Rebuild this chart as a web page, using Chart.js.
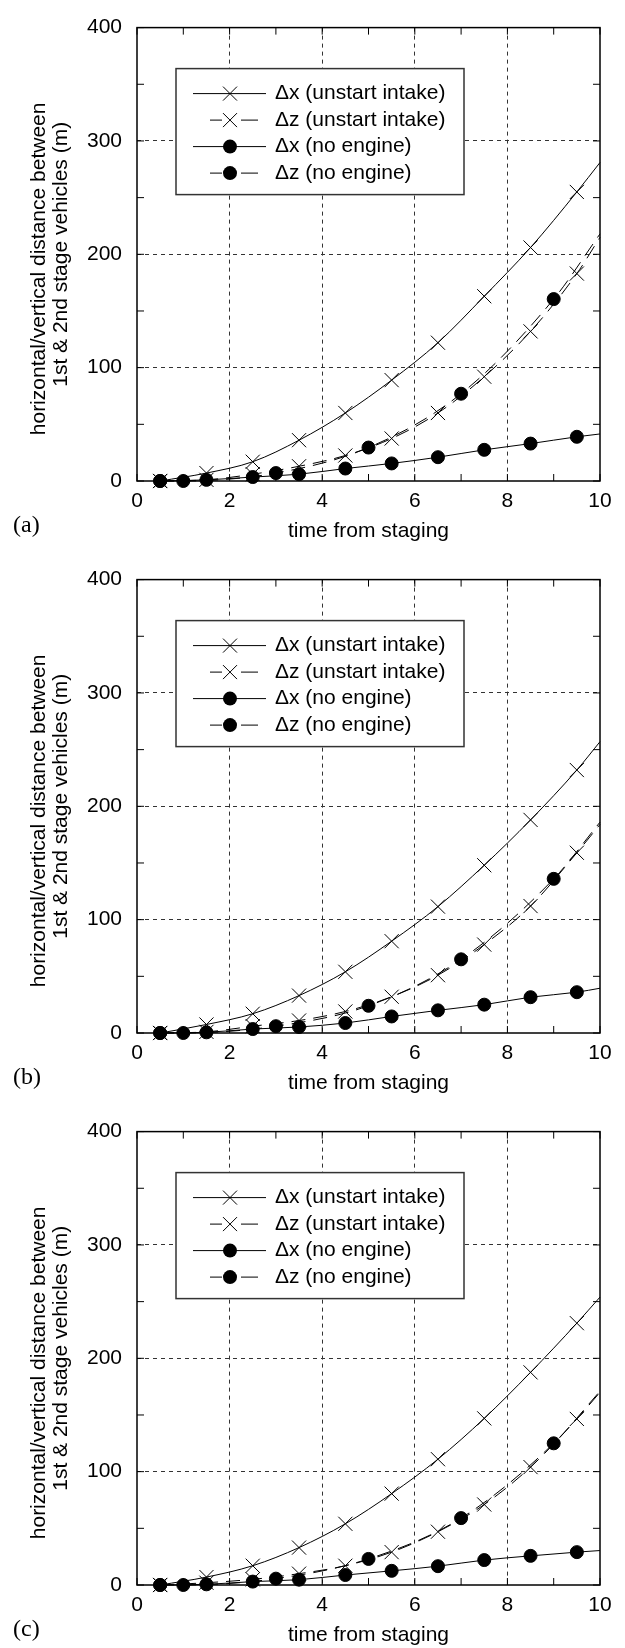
<!DOCTYPE html>
<html>
<head>
<meta charset="utf-8">
<script src="https://cdn.jsdelivr.net/npm/chart.js@4.4.0/dist/chart.umd.min.js"></script>
<style>
  html, body { margin: 0; padding: 0; background: #fff; }
  .panel { position: relative; width: 625px; height: 552px; }
  .panel canvas { display: block; }
  .tag {
    position: absolute; left: 13px; top: 509px;
    font: 24px "Liberation Serif", "Times New Roman", serif;
    line-height: 30px; color: #000;
  }
</style>
</head>
<body>
<div class="panel"><canvas id="chartA" width="625" height="552"></canvas><div class="tag">(a)</div></div>
<div class="panel"><canvas id="chartB" width="625" height="552"></canvas><div class="tag">(b)</div></div>
<div class="panel"><canvas id="chartC" width="625" height="552"></canvas><div class="tag">(c)</div></div>
<script>
// ── Data ──────────────────────────────────────────────────────────────────
// time from staging; markers sit on every point except the x = 10 end
var timeHalf = [0.5, 1.5, 2.5, 3.5, 4.5, 5.5, 6.5, 7.5, 8.5, 9.5, 10];
var timeOdd  = [0.5, 1, 3, 5, 7, 9, 10];

var seriesLabels = ['Δx (unstart intake)', 'Δz (unstart intake)', 'Δx (no engine)', 'Δz (no engine)'];
var xTickValues  = [0, 2, 4, 6, 8, 10];
var yTickValues  = [0, 100, 200, 300, 400];

// (a)
var dxUnstartA = [0, 7, 17, 36, 60, 89, 122, 163, 206, 255, 281];
var dzUnstartA = [0, 1, 6, 13, 22.5, 37.5, 60, 92, 132, 183, 215];
var dxNoEngA   = [0, 1, 3.5, 6, 11, 15.5, 21, 27.5, 33, 39, 41.5];
var dzNoEngA   = [0, 0, 7, 29.5, 77, 160.5, 218];

// (b)
var dxUnstartB = [0, 7.5, 17, 33, 54, 81, 111.5, 148, 188, 232, 257];
var dzUnstartB = [0, 1, 6, 11, 19, 32, 51, 78, 112, 159, 184];
var dxNoEngB   = [0, 0.6, 3.5, 5.3, 8.8, 14.6, 20, 25, 31.6, 36, 39.5];
var dzNoEngB   = [0, 0, 6, 24, 65, 136, 186];

// (c)
var dxUnstartC = [0, 7, 17, 33, 54, 80.6, 111, 147, 187.6, 231, 254];
var dzUnstartC = [0, 2, 5, 10, 17, 29, 47, 71, 104, 146.5, 170];
var dxNoEngC   = [0, 0.6, 3, 4.7, 8.8, 12.5, 16.6, 22, 25.7, 29, 30.4];
var dzNoEngC   = [0, 0, 5.6, 23, 59, 125, 171];

var FONT = '"Liberation Sans", Arial, sans-serif';
Chart.defaults.font.family = FONT;
Chart.defaults.color = '#000';

function points(xs, ys) {
  return xs.map(function(x, i) { return { x: x, y: ys[i] }; });
}

function makeDataset(label, xs, ys, dashed, marker) {
  var r = marker === 'circle' ? 6.5 : 10;
  return {
    label:                  label,
    data:                   points(xs, ys),
    borderColor:            '#000',
    backgroundColor:        '#000',
    borderWidth:            1,
    borderDash:             dashed ? [14, 8] : [],
    cubicInterpolationMode: 'monotone',
    pointStyle:             marker,
    pointRadius:            function(c) { return c.raw && c.raw.x === 10 ? 0 : r; },
    pointHoverRadius:       r,
    pointBorderWidth:       1,
    pointBackgroundColor:   '#000',
    pointBorderColor:       '#000',
    fill:                   false,
    clip:                   false,
  };
}

// small marker for the boxed legend
function drawMarker(ctx, style, x, y) {
  ctx.beginPath();
  if (style === 'circle') {
    ctx.arc(x, y, 7, 0, Math.PI * 2);
    ctx.fill();
  } else {
    var d = 7;
    ctx.moveTo(x - d, y - d); ctx.lineTo(x + d, y + d);
    ctx.moveTo(x - d, y + d); ctx.lineTo(x + d, y - d);
    ctx.stroke();
  }
}

// Boxed legend drawn inside the plot, line sample + marker + label
var boxLegend = {
  id: 'boxLegend',
  afterDatasetsDraw: function(chart) {
    var ctx = chart.ctx, a = chart.chartArea;
    var bx = a.left + 39, by = a.top + 41, bw = 288, bh = 126;
    ctx.save();
    ctx.fillStyle = '#fff';
    ctx.fillRect(bx, by, bw, bh);
    ctx.strokeStyle = '#333';
    ctx.lineWidth = 1.5;
    ctx.strokeRect(bx, by, bw, bh);

    chart.data.datasets.forEach(function(ds, i) {
      var y = by + 25 + i * 26.5;
      ctx.strokeStyle = '#000';
      ctx.fillStyle = '#000';
      ctx.lineWidth = 1;
      ctx.beginPath();
      if (ds.borderDash.length) {
        ctx.moveTo(bx + 34, y); ctx.lineTo(bx + 46, y);
        ctx.moveTo(bx + 65, y); ctx.lineTo(bx + 82, y);
      } else {
        ctx.moveTo(bx + 17, y); ctx.lineTo(bx + 90, y);
      }
      ctx.stroke();
      drawMarker(ctx, ds.pointStyle, bx + 54, y);
      ctx.font = '21px ' + FONT;
      ctx.textBaseline = 'middle';
      ctx.textAlign = 'left';
      ctx.fillText(ds.label, bx + 99, y);
    });
    ctx.restore();
  }
};

// Solid frame with inward tick marks on all four sides
var frameTicks = {
  id: 'frameTicks',
  afterDraw: function(chart) {
    var ctx = chart.ctx, a = chart.chartArea;
    var xs = chart.scales.x, ys = chart.scales.y;
    var len = 7;
    ctx.save();
    ctx.strokeStyle = '#000';
    ctx.lineWidth = 1;
    ctx.beginPath();
    for (var v = ys.min; v <= ys.max; v += 50) {
      var py = ys.getPixelForValue(v);
      ctx.moveTo(a.left, py);  ctx.lineTo(a.left + len, py);
      ctx.moveTo(a.right, py); ctx.lineTo(a.right - len, py);
    }
    for (var t = xs.min; t <= xs.max; t += 1) {
      var px = xs.getPixelForValue(t);
      ctx.moveTo(px, a.bottom); ctx.lineTo(px, a.bottom - len);
      ctx.moveTo(px, a.top);    ctx.lineTo(px, a.top + len);
    }
    ctx.stroke();
    ctx.lineWidth = 1.5;
    ctx.strokeRect(a.left, a.top, a.right - a.left, a.bottom - a.top);
    ctx.restore();
  }
};

function gridColor(lo, hi) {
  return function(c) {
    var v = c.tick ? c.tick.value : null;
    return v !== null && v > lo && v < hi ? '#333' : 'rgba(0,0,0,0)';
  };
}

function buildPanel(id, dxU, dzU, dxN, dzN) {
  var datasets = [
    makeDataset(seriesLabels[0], timeHalf, dxU, false, 'crossRot'),
    makeDataset(seriesLabels[1], timeHalf, dzU, true,  'crossRot'),
    makeDataset(seriesLabels[2], timeHalf, dxN, false, 'circle'),
    makeDataset(seriesLabels[3], timeOdd,  dzN, true,  'circle'),
  ];

  return new Chart(document.getElementById(id), {
    type: 'line',
    data: { datasets: datasets },
    plugins: [boxLegend, frameTicks],
    options: {
      responsive: false,
      animation: false,
      events: [],
      layout: { padding: { left: 0, top: 19, right: 25, bottom: 0 } },
      plugins: {
        legend:  { display: false },
        tooltip: { enabled: false },
      },
      scales: {
        x: {
          type: 'linear',
          min: 0,
          max: 10,
          afterBuildTicks: function(s) { s.ticks = xTickValues.map(function(v) { return { value: v }; }); },
          afterFit: function(s) { s.height = 71; },
          ticks: { font: { size: 21 }, padding: 8, maxRotation: 0 },
          grid: { color: gridColor(0, 10), lineWidth: 1, drawTicks: false },
          border: { display: false, dash: [4, 4] },
          title: {
            display: true,
            text: 'time from staging',
            font: { size: 21, lineHeight: 1.2 },
            padding: { top: 0, bottom: 8 },
          },
        },
        y: {
          type: 'linear',
          min: 0,
          max: 400,
          afterBuildTicks: function(s) { s.ticks = yTickValues.map(function(v) { return { value: v }; }); },
          afterFit: function(s) { s.width = 137; },
          ticks: { font: { size: 21 }, padding: 15 },
          grid: { color: gridColor(0, 400), lineWidth: 1, drawTicks: false },
          border: { display: false, dash: [4, 4] },
          title: {
            display: true,
            text: ['horizontal/vertical distance between     ', '1st & 2nd stage vehicles (m)'],
            font: { size: 21, lineHeight: 1.05 },
            padding: { top: 28, bottom: 0 },
          },
        }
      }
    }
  });
}

buildPanel('chartA', dxUnstartA, dzUnstartA, dxNoEngA, dzNoEngA);
buildPanel('chartB', dxUnstartB, dzUnstartB, dxNoEngB, dzNoEngB);
buildPanel('chartC', dxUnstartC, dzUnstartC, dxNoEngC, dzNoEngC);
</script>
</body>
</html>
